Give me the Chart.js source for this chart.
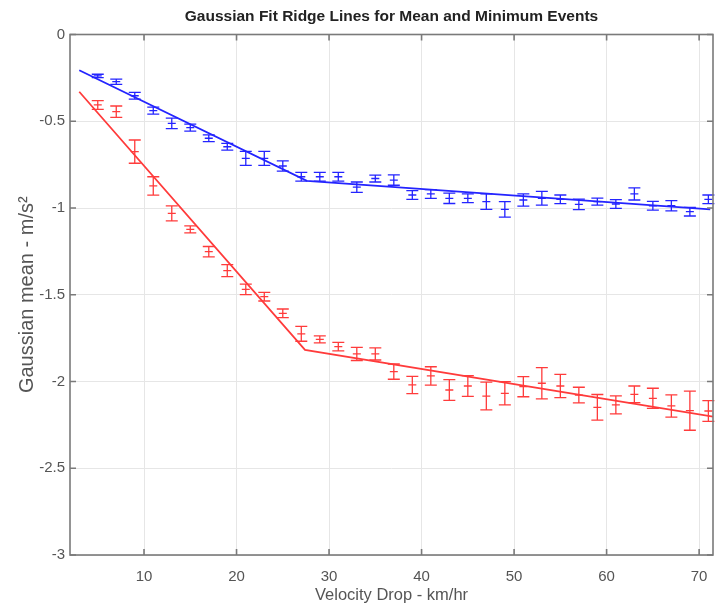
<!DOCTYPE html>
<html>
<head>
<meta charset="utf-8">
<script src="https://cdn.jsdelivr.net/npm/chart.js@4/dist/chart.umd.min.js"></script>
<style>
  html, body { margin: 0; padding: 0; background: #fff; }
  #wrap { width: 721px; height: 606px; }
</style>
</head>
<body>
<div id="wrap"><canvas id="ridge"></canvas></div>
<script>
// velocity drop bins (km/hr)
const velocity = [5,7,9,11,13,15,17,19,21,23,25,27,29,31,33,35,37,39,41,43,45,47,49,51,53,55,57,59,61,63,65,67,69,71]

// mean events (blue)
const blueMean = [-0.239,-0.272,-0.353,-0.439,-0.512,-0.537,-0.598,-0.647,-0.714,-0.714,-0.758,-0.82,-0.82,-0.82,-0.88,-0.83,-0.839,-0.925,-0.919,-0.944,-0.944,-0.963,-1.008,-0.954,-0.944,-0.95,-0.979,-0.963,-0.977,-0.919,-0.987,-0.987,-1.021,-0.95]
const blueErr = [0.01,0.015,0.02,0.02,0.03,0.02,0.02,0.02,0.04,0.04,0.03,0.025,0.025,0.025,0.03,0.02,0.03,0.025,0.025,0.03,0.025,0.045,0.045,0.035,0.04,0.025,0.03,0.02,0.025,0.035,0.025,0.03,0.025,0.025]

// minimum events (red)
const redMean = [-0.406,-0.445,-0.675,-0.873,-1.031,-1.123,-1.252,-1.361,-1.469,-1.511,-1.607,-1.725,-1.757,-1.799,-1.841,-1.841,-1.943,-2.02,-1.968,-2.049,-2.026,-2.084,-2.068,-2.03,-2.01,-2.026,-2.078,-2.149,-2.135,-2.074,-2.097,-2.141,-2.168,-2.17]
const redErr = [0.025,0.033,0.067,0.053,0.043,0.02,0.03,0.035,0.03,0.025,0.025,0.043,0.02,0.025,0.038,0.035,0.044,0.05,0.053,0.06,0.06,0.08,0.067,0.058,0.09,0.067,0.045,0.074,0.052,0.048,0.058,0.064,0.113,0.06]

// piecewise ridge fits
const blueFitX = [3, 27.6, 71.2]
const blueFitY = [-0.206, -0.844, -1.008]
const redFitX = [3, 27.4, 71.5]
const redFitY = [-0.33, -1.818, -2.203]

// axis ticks
const xTicks = [10,20,30,40,50,60,70]
const yTicks = [0,-0.5,-1,-1.5,-2,-2.5,-3]

const BLUE = '#2424ff'
const RED = '#ff3b3b'
const AXIS = '#7a7a7a'
const TXT = '#555'

function pts(xs, ys) {
    return xs.map((x, i) => ({ x: x, y: ys[i] }))
}

// error bars drawn through the chart scales
const errorBars = {
    id: 'errorBars',
    afterDatasetsDraw(chart) {
        const ctx = chart.ctx
        const xs = chart.scales.x
        const ys = chart.scales.y
        const sets = [[blueMean, blueErr, BLUE], [redMean, redErr, RED]]
        ctx.save()
        ctx.lineWidth = 1.3
        sets.forEach(s => {
            ctx.strokeStyle = s[2]
            velocity.forEach((v, i) => {
                const px = xs.getPixelForValue(v)
                const top = ys.getPixelForValue(s[0][i] + s[1][i])
                const bot = ys.getPixelForValue(s[0][i] - s[1][i])
                ctx.beginPath()
                ctx.moveTo(px, top); ctx.lineTo(px, bot)
                ctx.moveTo(px - 6, top); ctx.lineTo(px + 6, top)
                ctx.moveTo(px - 6, bot); ctx.lineTo(px + 6, bot)
                ctx.stroke()
            })
        })
        ctx.restore()
    }
}

// matlab style box with inward ticks
const boxAxes = {
    id: 'boxAxes',
    afterDraw(chart) {
        const ctx = chart.ctx
        const a = chart.chartArea
        const xs = chart.scales.x
        const ys = chart.scales.y
        ctx.save()
        ctx.strokeStyle = AXIS
        ctx.lineWidth = 1.6
        ctx.strokeRect(a.left, a.top, a.right - a.left, a.bottom - a.top)
        ctx.beginPath()
        xTicks.forEach(t => {
            const p = xs.getPixelForValue(t)
            ctx.moveTo(p, a.bottom); ctx.lineTo(p, a.bottom - 6)
            ctx.moveTo(p, a.top); ctx.lineTo(p, a.top + 6)
        })
        yTicks.forEach(t => {
            const p = ys.getPixelForValue(t)
            ctx.moveTo(a.left, p); ctx.lineTo(a.left + 6, p)
            ctx.moveTo(a.right, p); ctx.lineTo(a.right - 6, p)
        })
        ctx.stroke()
        ctx.restore()
    }
}

const ctx = document.getElementById('ridge').getContext('2d')
const ridgeChart = new Chart(ctx, {
    type: 'scatter',
    data: {
        datasets: [
            { label: 'mean fit', data: pts(blueFitX, blueFitY), showLine: true, borderColor: BLUE, borderWidth: 1.8, pointRadius: 0, fill: false },
            { label: 'minimum fit', data: pts(redFitX, redFitY), showLine: true, borderColor: RED, borderWidth: 1.8, pointRadius: 0, fill: false },
            { label: 'mean', data: pts(velocity, blueMean), pointStyle: 'line', pointRadius: 4, borderColor: BLUE, borderWidth: 1.3 },
            { label: 'minimum', data: pts(velocity, redMean), pointStyle: 'line', pointRadius: 4, borderColor: RED, borderWidth: 1.3 }
        ]
    },
    options: {
        responsive: true,
        maintainAspectRatio: false,
        animation: false,
        layout: { padding: { left: 0, right: 8, top: 0, bottom: 0 } },
        plugins: {
            legend: { display: false },
            tooltip: { enabled: false },
            title: {
                display: true,
                fullSize: false,
                text: 'Gaussian Fit Ridge Lines for Mean and Minimum Events',
                color: '#222',
                font: { family: 'Liberation Sans', size: 15.5, weight: 'bold' },
                padding: { top: 7.7, bottom: 8.2 }
            }
        },
        scales: {
            x: {
                type: 'linear',
                min: 2,
                max: 71.5,
                afterBuildTicks: scale => { scale.ticks = xTicks.map(v => ({ value: v })) },
                afterFit: scale => { scale.height = 51 },
                border: { display: false },
                grid: { color: '#e6e6e6', lineWidth: 1, drawTicks: false },
                ticks: { color: TXT, padding: 13, font: { family: 'Liberation Sans', size: 15 } },
                title: {
                    display: true,
                    text: 'Velocity Drop - km/hr',
                    color: TXT,
                    font: { family: 'Liberation Sans', size: 16.5 },
                    padding: { top: 0, bottom: 1 }
                }
            },
            y: {
                min: -3,
                max: 0,
                afterBuildTicks: scale => { scale.ticks = yTicks.map(v => ({ value: v })) },
                afterFit: scale => { scale.width = 70 },
                border: { display: false },
                grid: { color: '#e6e6e6', lineWidth: 1, drawTicks: false },
                ticks: {
                    color: TXT,
                    padding: 5,
                    font: { family: 'Liberation Sans', size: 15 },
                    callback: v => String(v)
                },
                title: {
                    display: true,
                    text: 'Gaussian mean - m/s²',
                    color: TXT,
                    font: { family: 'Liberation Sans', size: 20 },
                    padding: { top: 15.5, bottom: 0 }
                }
            }
        }
    },
    plugins: [errorBars, boxAxes]
})
</script>
</body>
</html>
